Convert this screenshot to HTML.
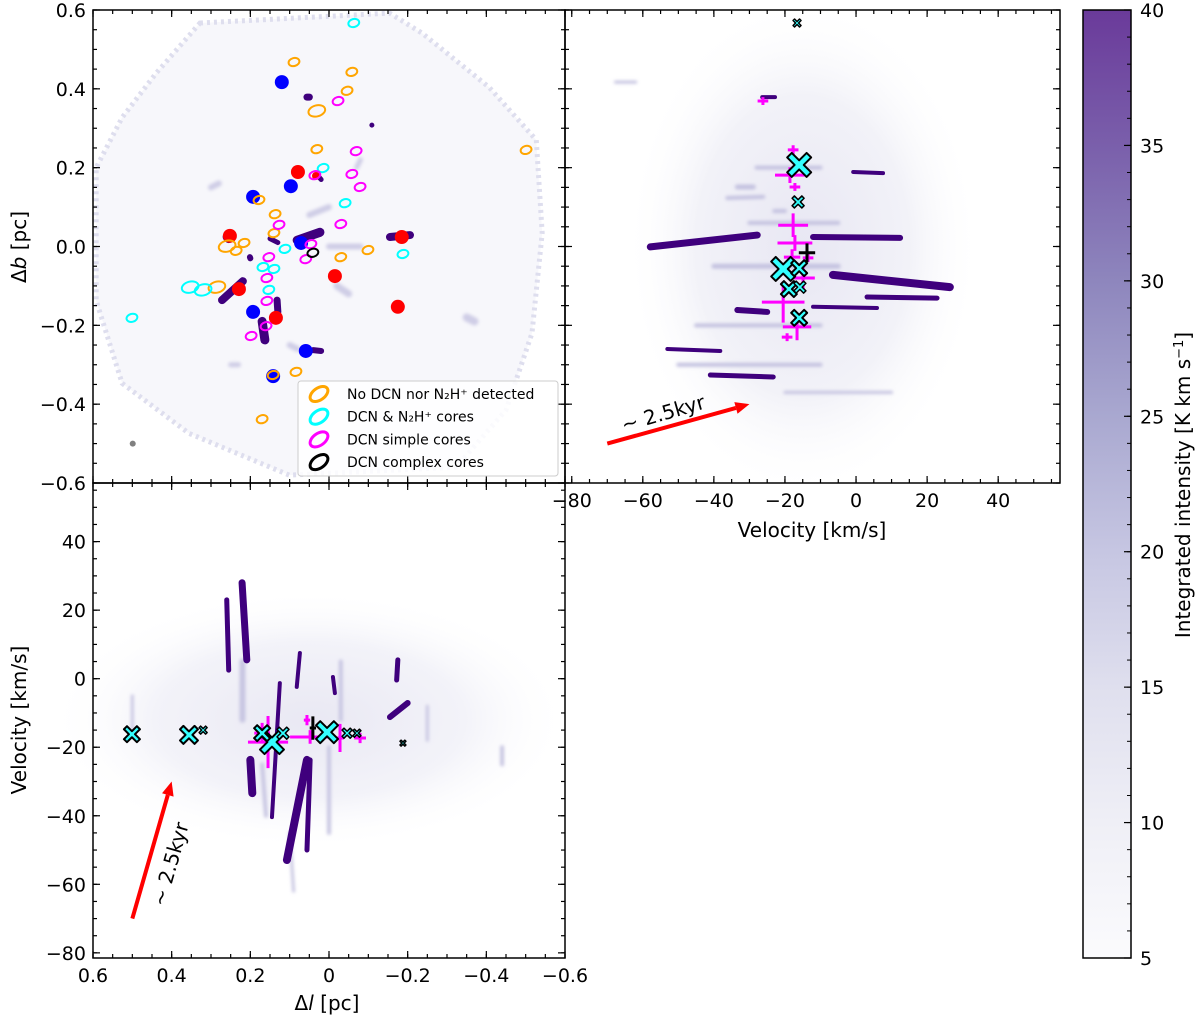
<!DOCTYPE html>
<html><head><meta charset="utf-8"><style>
html,body{margin:0;padding:0;background:#fff;}
svg{display:block;font-family:"DejaVu Sans","Liberation Sans",sans-serif;}
</style></head><body>
<svg id="fig" width="1200" height="1018" viewBox="0 0 1200 1018" xmlns="http://www.w3.org/2000/svg">
<defs>
<linearGradient id="cbgrad" x1="0" y1="1" x2="0" y2="0">
<stop offset="0" stop-color="#fbfbfd"/><stop offset="0.143" stop-color="#efeff6"/>
<stop offset="0.286" stop-color="#dfdfee"/><stop offset="0.429" stop-color="#c6c6e2"/>
<stop offset="0.571" stop-color="#a9a8d0"/><stop offset="0.714" stop-color="#8e86bd"/>
<stop offset="0.857" stop-color="#7a5fab"/><stop offset="1" stop-color="#6a3a9a"/>
</linearGradient>
<radialGradient id="trcloud"><stop offset="0" stop-color="#e8e7f3"/><stop offset="0.6" stop-color="#f2f2f8"/><stop offset="1" stop-color="#fff" stop-opacity="0"/></radialGradient>
<radialGradient id="blcloud"><stop offset="0" stop-color="#e9e8f3"/><stop offset="0.6" stop-color="#f3f3f9"/><stop offset="1" stop-color="#fff" stop-opacity="0"/></radialGradient>
<filter id="soft" x="-20%" y="-20%" width="140%" height="140%"><feGaussianBlur stdDeviation="1.5"/></filter>
</defs>
</svg>
<script>
// ---------- data ----------
const lTicks=[0.6,0.4,0.2,0,-0.2,-0.4,-0.6];
const bTicks=[0.6,0.4,0.2,0,-0.2,-0.4,-0.6];
const vTicks=[-80,-60,-40,-20,0,20,40];
const cbTicks=[5,10,15,20,25,30,35,40];
const redCores=[[0.079,0.189],[0.033,0.179],[0.252,0.027],[-0.185,0.024],[-0.015,-0.075],[0.229,-0.108],[-0.175,-0.153],[0.135,-0.181]];
const redSizes=[7,4,7,7,7,7,7,7];
const blueCores=[[0.12,0.417],[0.097,0.153],[0.193,0.126],[0.071,0.009],[0.193,-0.166],[0.059,-0.265],[0.142,-0.329]];
const orangeCores=[[0.089,0.468],[-0.058,0.443],[-0.046,0.395],[0.031,0.344],[0.031,0.247],[-0.501,0.245],[0.178,0.118],[0.137,0.082],[0.14,0.034],[0.216,0.009],[0.259,0.001],[0.236,-0.011],[-0.03,-0.027],[-0.099,-0.009],[0.285,-0.103],[0.084,-0.318],[0.142,-0.326],[0.17,-0.438]];
const orangeBig=[0,0,0,1,0,0,0,0,0,0,1,0,0,0,1,0,0,0];
const cyanCores=[[-0.063,0.567],[0.015,0.199],[-0.041,0.11],[0.112,-0.006],[-0.188,-0.019],[0.168,-0.052],[0.14,-0.057],[0.153,-0.11],[0.353,-0.103],[0.32,-0.11],[0.501,-0.181]];
const cyanBig=[0,0,0,0,0,0,0,0,1,1,0];
const magentaCores=[[-0.023,0.369],[-0.069,0.242],[-0.058,0.184],[-0.079,0.151],[0.036,0.181],[-0.03,0.057],[0.127,0.055],[0.046,0.006],[0.153,-0.027],[0.059,-0.032],[0.158,-0.08],[0.158,-0.138],[0.16,-0.202],[0.198,-0.227]];
const blackCores=[[0.041,-0.016]];
const mapBlobs=[[0.081,0.016,0.023,0.036,9],[0.272,-0.136,0.219,-0.088,8],[0.17,-0.19,0.163,-0.237,9],[0.132,-0.136,0.13,-0.166,7],[-0.155,0.024,-0.206,0.029,8],[0.259,0.024,0.255,0.02,9],[0.056,0.379,0.05,0.379,7],[-0.109,0.308,-0.109,0.308,5],[0.201,-0.027,0.2,-0.03,6],[0.04,-0.263,0.02,-0.265,6],[0.15,0.02,0.13,0.01,5],[0.027,0.178,0.02,0.17,5]];
const mapFaint=[[0.05,0.08,0.0,0.1,6],[-0.02,-0.1,-0.05,-0.12,7],[-0.07,0.2,-0.08,0.22,5],[0.3,0.15,0.28,0.16,6],[-0.35,-0.18,-0.37,-0.19,8],[0.0,0.0,-0.08,0.0,6],[0.1,-0.25,0.08,-0.26,6],[0.25,-0.3,0.23,-0.3,5]];
const pvStreaks=[[-57.9,-0.001,-27.8,0.029,7],[-12.1,0.024,12.4,0.022,6],[-6.5,-0.072,26.4,-0.103,8],[3.1,-0.128,22.8,-0.131,5],[-33.4,-0.161,-25,-0.166,6],[-12.1,-0.153,5.9,-0.156,4],[-53.1,-0.26,-38.2,-0.265,4],[-41,-0.326,-23.3,-0.331,5],[-0.8,0.189,7.6,0.186,4],[-26.4,0.379,-22.8,0.379,4]];
const pvFaint=[[-33.4,0.151,-28.9,0.151,5],[-36.2,0.123,-26.1,0.126,4],[-67.7,0.417,-62,0.417,3],[-23,0.09,-20,0.09,4],[-28,0.2,-10,0.2,4],[-40,-0.05,-5,-0.05,5],[-30,0.06,-5,0.06,4],[-45,-0.2,-10,-0.2,4],[-50,-0.3,-10,-0.3,4],[-20,-0.37,10,-0.37,3]];
const pvXs=[[-16,0.207,12],[-16.3,0.113,6],[-20.5,-0.057,12],[-16,-0.055,8],[-18.9,-0.108,8],[-15.8,-0.103,6],[-16,-0.181,8],[-16.6,0.567,4]];
const pvPlus=[[-17.7,0.245,1.5,0.012],[-18.6,0.181,4.2,0.02],[-17.2,0.151,1.5,0.01],[-17.7,0.054,4.2,0.03],[-17.2,0.009,4.9,0.02],[-18,-0.027,2.3,0.02],[-13.5,-0.029,1.5,0.01],[-14.9,-0.08,3.3,0.034],[-20.5,-0.141,6,0.052],[-16.6,-0.204,4,0.034],[-19.4,-0.23,1.5,0.01],[-26.2,0.369,1.5,0.01]];
const pvBlackPlus=[[-13.8,-0.016,2.3,0.024]];
const lvStreaks=[[0.221,28,0.209,5.5,7],[0.26,23,0.255,2.5,5],[0.2,-23.7,0.195,-33.4,8],[0.125,-1.3,0.145,-40.4,4],[0.074,7.5,0.082,-2.4,4],[0.056,-23.7,0.107,-52.9,8],[0.048,-23.7,0.056,-50,5],[-0.01,0.5,-0.015,-4.2,4],[-0.175,5.5,-0.172,-0.4,5],[-0.155,-11.2,-0.2,-7.1,6]];
const lvFaint=[[0.0,-20,0.0,-45,4],[-0.03,5,-0.03,-12,4],[-0.25,-8,-0.25,-18,3],[-0.44,-20,-0.44,-25,4],[0.5,-5,0.5,-15,3],[0.22,5,0.22,-12,6],[0.1,-45,0.09,-62,3],[0.16,-40,0.17,-25,4]];
const lvXs=[[0.501,-16.2,8],[0.356,-16.4,9],[0.32,-15,4],[0.145,-18.5,12],[0.17,-15.9,8],[0.117,-15.9,6],[0.005,-15.6,11],[-0.046,-15.9,5],[-0.071,-15.9,4],[-0.188,-18.8,3]];
const lvPlus=[[0.155,-18.5,0.051,7.6],[0.17,-15.9,0.02,3],[0.056,-12.1,0.008,1.5],[0.048,-17,0.051,2],[-0.028,-17.3,0.01,4.1],[-0.079,-17.3,0.015,1.5]];
const lvBlackPlus=[[0.041,-14.4,0.008,3.4]];
const legendLabels=["No DCN nor N₂H⁺ detected","DCN & N₂H⁺ cores","DCN simple cores","DCN complex cores"];
const legendColors=["#ffa500","#00ffff","#ff00ff","#000000"];

// ---------- scales ----------
const TL={x0:93,x1:565,y0:10,y1:483}, TR={x0:565,x1:1060,y0:10,y1:483}, BL={x0:93,x1:565,y0:483,y1:958};
const VMIN=-81.9,VMAX=57.4, VMIN2=-81.5, VMAX2=57.1;
const xl=l=>93+(0.6-l)/1.2*472;
const yb=b=>10+(0.6-b)/1.2*473;
const xv=v=>565+(v-VMIN)/(VMAX-VMIN)*495;
const yv=v=>483+(VMAX2-v)/(VMAX2-VMIN2)*475;
const ycb=c=>958-(c-5)/35*948;

const svg=document.getElementById('fig');
const NS="http://www.w3.org/2000/svg";
function mk(tag,attrs,parent){const e=document.createElementNS(NS,tag);for(const k in attrs)e.setAttribute(k,attrs[k]);(parent||svg).appendChild(e);return e;}
function grp(name){const g=mk('g',{});return g;}

const gTLbg=grp('map-diffuse-emission');
const poly=[[0.328,0.567],[-0.154,0.592],[-0.237,0.541],[-0.407,0.404],[-0.527,0.27],[-0.542,0.034],[-0.516,-0.22],[-0.45,-0.415],[-0.323,-0.56],[0.101,-0.58],[0.356,-0.474],[0.526,-0.347],[0.592,-0.137],[0.592,0.2],[0.526,0.327],[0.44,0.439]];
mk('polygon',{points:poly.map(p=>xl(p[0])+','+yb(p[1])).join(' '),fill:'#f7f7fb',stroke:'#dedeee','stroke-width':5,'stroke-dasharray':'3 4'},gTLbg);
mk('circle',{cx:xl(0.499),cy:yb(-0.5),r:3,fill:'#808080'},gTLbg);

const gTRbg=grp('pv-diffuse-emission');
mk('ellipse',{cx:xv(-15),cy:yb(0.0),rx:xv(35)-xv(-15),ry:250,fill:'url(#trcloud)'},gTRbg);
const gBLbg=grp('lv-diffuse-emission');
mk('ellipse',{cx:xl(0.05),cy:yv(-12),rx:260,ry:yv(-50)-yv(-12),fill:'url(#blcloud)'},gBLbg);

function streak(g,x1,y1,x2,y2,w,col,name){
  const e=mk('line',{x1:x1,y1:y1,x2:x2,y2:y2,stroke:col,'stroke-width':w,'stroke-linecap':'round'},g);
  
  
}
const gMapF=grp('map-faint-emission');gMapF.setAttribute('filter','url(#soft)');
mapFaint.forEach(s=>streak(gMapF,xl(s[0]),yb(s[1]),xl(s[2]),yb(s[3]),s[4],'#cfcde6','map-faint-clump'));
const gMap=grp('map-dense-emission');
mapBlobs.forEach(s=>streak(gMap,xl(s[0]),yb(s[1]),xl(s[2]),yb(s[3]),s[4],'#3f007d','map-dense-clump'));
const gPVF=grp('pv-faint-emission');gPVF.setAttribute('filter','url(#soft)');
pvFaint.forEach(s=>streak(gPVF,xv(s[0]),yb(s[1]),xv(s[2]),yb(s[3]),s[4],'#c4c2e0','pv-faint-streak'));
const gPV=grp('pv-dense-emission');
pvStreaks.forEach(s=>streak(gPV,xv(s[0]),yb(s[1]),xv(s[2]),yb(s[3]),s[4],'#3f007d','pv-dense-streak'));
const gLVF=grp('lv-faint-emission');gLVF.setAttribute('filter','url(#soft)');
lvFaint.forEach(s=>streak(gLVF,xl(s[0]),yv(s[1]),xl(s[2]),yv(s[3]),s[4],'#c8c6e2','lv-faint-streak'));
const gLV=grp('lv-dense-emission');
lvStreaks.forEach(s=>streak(gLV,xl(s[0]),yv(s[1]),xl(s[2]),yv(s[3]),s[4],'#3f007d','lv-dense-streak'));

const gCores=grp('map-cores');
redCores.forEach((p,i)=>{const c=mk('circle',{cx:xl(p[0]),cy:yb(p[1]),r:redSizes[i],fill:'#ff0000'},gCores);

});
blueCores.forEach(p=>{const c=mk('circle',{cx:xl(p[0]),cy:yb(p[1]),r:7,fill:'#0000ff'},gCores);

});
function ell(p,big,col,name){const x=xl(p[0]),y=yb(p[1]);
 const e=mk('ellipse',{cx:x,cy:y,rx:big?8.5:5.5,ry:big?5.5:4,fill:'none',stroke:col,'stroke-width':2,transform:`rotate(-15 ${x} ${y})`},gCores);
 
 }
orangeCores.forEach((p,i)=>ell(p,orangeBig[i],'#ffa500','orange-core'));
cyanCores.forEach((p,i)=>ell(p,cyanBig[i],'#00ffff','cyan-core'));
magentaCores.forEach(p=>ell(p,0,'#ff00ff','magenta-core'));
blackCores.forEach(p=>ell(p,0,'#000000','black-core'));

function xmark(g,x,y,s,name){
 const a=s*0.38;
 const pts=[[-s,-s+a],[-s+a,-s],[0,-a],[s-a,-s],[s,-s+a],[a,0],[s,s-a],[s-a,s],[0,a],[-s+a,s],[-s,s-a],[-a,0]];
 const e=mk('polygon',{points:pts.map(p=>(x+p[0])+','+(y+p[1])).join(' '),fill:'#33ffff',stroke:'#000','stroke-width':s>6?2:1.5,'stroke-linejoin':'round'},g);
 
 }
function plus(g,x,y,hx,hy,col,name){
 const p=mk('path',{d:`M${x-hx},${y}H${x+hx}M${x},${y-hy}V${y+hy}`,stroke:col,'stroke-width':3,fill:'none'},g);
 
 }
const gPVm=grp('pv-cores');
pvPlus.forEach(p=>plus(gPVm,xv(p[0]),yb(p[1]),xv(p[0]+p[2])-xv(p[0]),yb(p[1]-p[3])-yb(p[1]),'#ff00ff','pv-simple-core'));
pvXs.forEach(p=>xmark(gPVm,xv(p[0]),yb(p[1]),p[2],'pv-dcn-n2h-core'));
pvBlackPlus.forEach(p=>plus(gPVm,xv(p[0]),yb(p[1]),xv(p[0]+p[2])-xv(p[0]),yb(p[1]-p[3])-yb(p[1]),'#000','pv-complex-core'));
const gLVm=grp('lv-cores');
lvPlus.forEach(p=>plus(gLVm,xl(p[0]),yv(p[1]),xl(p[0])-xl(p[0]+p[2]),yv(p[1]-p[3])-yv(p[1]),'#ff00ff','lv-simple-core'));
lvXs.forEach(p=>xmark(gLVm,xl(p[0]),yv(p[1]),p[2],'lv-dcn-n2h-core'));
lvBlackPlus.forEach(p=>plus(gLVm,xl(p[0]),yv(p[1]),xl(p[0])-xl(p[0]+p[2]),yv(p[1]-p[3])-yv(p[1]),'#000','lv-complex-core'));

function arrow(x1,y1,x2,y2,name){
 const g=grp(name);
 const ang=Math.atan2(y2-y1,x2-x1),L=14,W=6;
 const bx=x2-L*Math.cos(ang),by=y2-L*Math.sin(ang);
 mk('line',{x1:x1,y1:y1,x2:bx,y2:by,stroke:'#ff0000','stroke-width':4},g);
 mk('polygon',{points:`${x2},${y2} ${bx+W*Math.sin(ang)},${by-W*Math.cos(ang)} ${bx-W*Math.sin(ang)},${by+W*Math.cos(ang)}`,fill:'#ff0000'},g);
 return g;}
arrow(xv(-70),yb(-0.5),xv(-30),yb(-0.4),'pv-time-arrow');
arrow(xl(0.5),yv(-70),xl(0.4),yv(-30),'lv-time-arrow');
let t=mk('text',{x:0,y:0,'font-size':20,transform:`translate(665,420) rotate(-16)`,'text-anchor':'middle'});t.textContent='~ 2.5kyr';


t=mk('text',{x:0,y:0,'font-size':20,transform:`translate(177,866) rotate(-74)`,'text-anchor':'middle'});t.textContent='~ 2.5kyr';



function range(a,b,s){const r=[];for(let v=a;v<=b+1e-9;v+=s)r.push(+v.toFixed(4));return r;}
function ticksH(g,scale,vals,y0,y1,len){vals.forEach(v=>{const x=scale(v);mk('line',{x1:x,y1:y0,x2:x,y2:y0+len,stroke:'#000','stroke-width':1.2},g);mk('line',{x1:x,y1:y1,x2:x,y2:y1-len,stroke:'#000','stroke-width':1.2},g);});}
function ticksV(g,scale,vals,x0,x1,len){vals.forEach(v=>{const y=scale(v);mk('line',{x1:x0,y1:y,x2:x0+len,y2:y,stroke:'#000','stroke-width':1.2},g);mk('line',{x1:x1,y1:y,x2:x1-len,y2:y,stroke:'#000','stroke-width':1.2},g);});}
function fmtI(v){return (v<0?'−':'')+Math.abs(v);}
function fmtF(v){return (v<0?'−':'')+Math.abs(v).toFixed(1);}
function label(g,x,y,txt,anchor,name){const e=mk('text',{x:x,y:y,'font-size':19,'text-anchor':anchor},g);e.textContent=txt;
 
 }

const gTRax=grp('pv-axes');
vTicks.forEach(v=>label(gTRax,xv(v),507,fmtI(v),'middle','pv-x-tick-label'));
mk('rect',{x:TR.x0,y:TR.y0,width:TR.x1-TR.x0,height:TR.y1-TR.y0,fill:'none',stroke:'#000','stroke-width':1.5},gTRax);
ticksH(gTRax,xv,range(-80,55,5),TR.y0,TR.y1,4);ticksH(gTRax,xv,vTicks,TR.y0,TR.y1,7);
ticksV(gTRax,yb,range(-0.6,0.6,0.05),TR.x0,TR.x1,4);ticksV(gTRax,yb,bTicks,TR.x0,TR.x1,7);

const gTL=grp('map-axes');
mk('rect',{x:TL.x0,y:TL.y0,width:TL.x1-TL.x0,height:TL.y1-TL.y0,fill:'none',stroke:'#000','stroke-width':1.5},gTL);
ticksH(gTL,xl,range(-0.6,0.6,0.05),TL.y0,TL.y1,4);ticksH(gTL,xl,lTicks,TL.y0,TL.y1,7);
ticksV(gTL,yb,range(-0.6,0.6,0.05),TL.x0,TL.x1,4);ticksV(gTL,yb,bTicks,TL.x0,TL.x1,7);
bTicks.forEach(b=>label(gTL,86,yb(b)+7,fmtF(b),'end','map-y-tick-label'));

const gBL=grp('lv-axes');
mk('rect',{x:BL.x0,y:BL.y0,width:BL.x1-BL.x0,height:BL.y1-BL.y0,fill:'none',stroke:'#000','stroke-width':1.5},gBL);
ticksH(gBL,xl,range(-0.6,0.6,0.05),BL.y0,BL.y1,4);ticksH(gBL,xl,lTicks,BL.y0,BL.y1,7);
ticksV(gBL,yv,range(-80,55,5),BL.x0,BL.x1,4);ticksV(gBL,yv,vTicks,BL.x0,BL.x1,7);
lTicks.forEach(l=>label(gBL,xl(l),982,l===0?'0':fmtF(l),'middle','lv-x-tick-label'));
vTicks.forEach(v=>label(gBL,86,yv(v)+7,fmtI(v),'end','lv-y-tick-label'));

function title(x,y,html,rot,name){const e=mk('text',{x:0,y:0,'font-size':20,'text-anchor':'middle',transform:`translate(${x},${y})`+(rot?` rotate(${rot})`:'')});e.innerHTML=html;
 
 }
title(26,247,'Δ<tspan font-style="italic">b</tspan> [pc]',-90,'map-y-axis-title');
title(26,720,'Velocity [km/s]',-90,'lv-y-axis-title');
title(812,537,'Velocity [km/s]',0,'pv-x-axis-title');
title(327,1010,'Δ<tspan font-style="italic">l</tspan> [pc]',0,'lv-x-axis-title');

const gLeg=grp('legend');
mk('rect',{x:298,y:381,width:260,height:95,rx:3,fill:'#fff','fill-opacity':0.85,stroke:'#ccc','stroke-width':1},gLeg);
legendLabels.forEach((s,i)=>{const y=394+i*22.7;
 const g=mk('g',{},gLeg);
 
 
 mk('ellipse',{cx:319,cy:y,rx:10,ry:6,fill:'none',stroke:legendColors[i],'stroke-width':3,transform:`rotate(-35 319 ${y})`},g);
 const e=mk('text',{x:347,y:y+5,'font-size':14},g);e.textContent=s;});

const gCB=grp('colorbar');
mk('rect',{x:1083,y:10,width:48,height:948,fill:'url(#cbgrad)',stroke:'#000','stroke-width':1.5},gCB);
range(5,40,1).forEach(c=>mk('line',{x1:1131,y1:ycb(c),x2:1127,y2:ycb(c),stroke:'#000','stroke-width':1},gCB));
cbTicks.forEach(c=>{mk('line',{x1:1131,y1:ycb(c),x2:1124,y2:ycb(c),stroke:'#000','stroke-width':1.2},gCB);label(gCB,1140,ycb(c)+7,String(c),'start','colorbar-tick-label');});
title(1190,485,'Integrated intensity [K km s<tspan baseline-shift="super" font-size="13">−1</tspan>]',-90,'colorbar-title');
</script>
</body></html>
